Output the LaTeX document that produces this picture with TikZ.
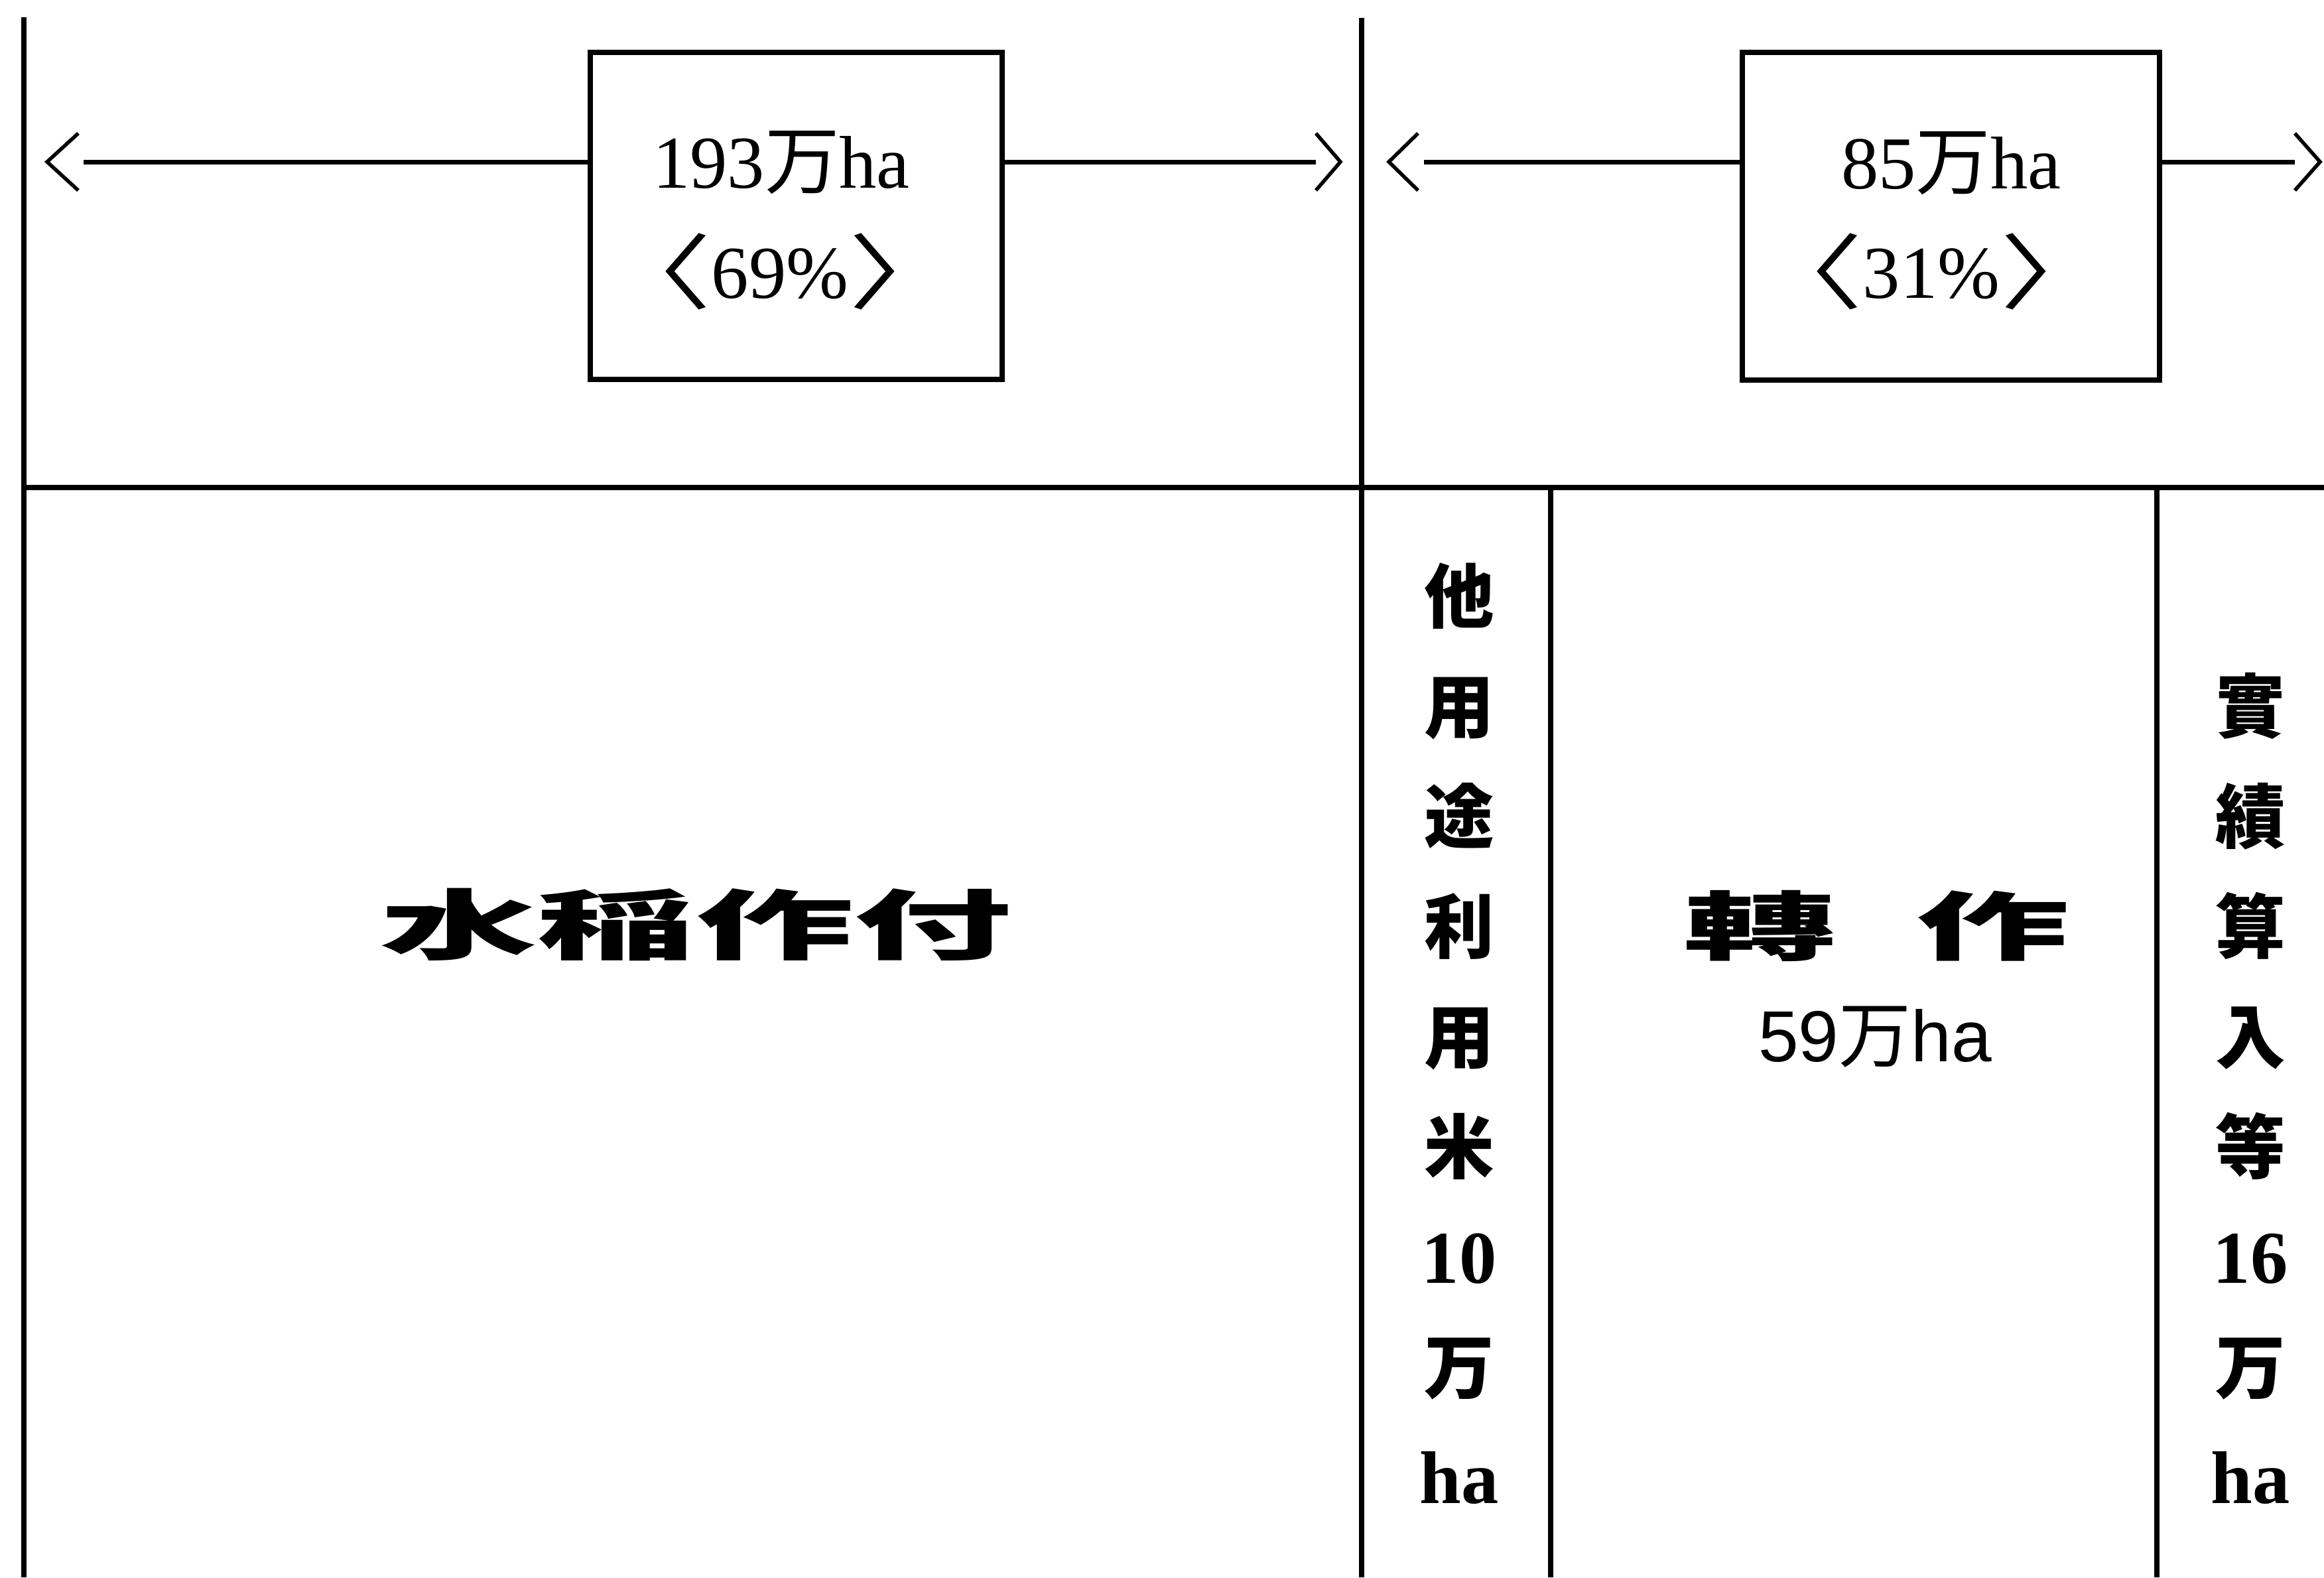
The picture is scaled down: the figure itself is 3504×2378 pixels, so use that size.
\documentclass[tikz,border=0pt]{standalone}
\usepackage{fontspec}
\usepackage{graphicx}
\setmainfont{Liberation Serif}
\newfontfamily\cjk{Noto Sans CJK JP}
\newfontfamily\cjkh{Noto Sans CJK JP}[RawFeature=+halt]
\newfontfamily\sansf{Liberation Sans}
\newcommand\myla{\raisebox{-2pt}{\scalebox{1.5}[1.1]{\cjkh 〈}}}
\newcommand\myra{\raisebox{-2pt}{\scalebox{1.5}[1.1]{\cjkh 〉}}}
\tikzset{
  frameline/.style={line width=0.075cm},
  boxst/.style={draw, line width=0.085cm, inner sep=0pt},
  link/.style={line width=0.07cm},
  chev/.style={line width=0.055cm, line join=miter},
  boxtxt/.style={anchor=base, inner sep=0pt, font=\fontsize{32}{38}\selectfont},
  head/.style={anchor=base, inner sep=0pt, font=\cjk\bfseries\fontsize{32.7}{40}\selectfont},
  sanstxt/.style={anchor=base, inner sep=0pt, font=\sansf\fontsize{31}{37}\selectfont},
  vt/.style={anchor=base, inner sep=0pt, font=\cjk\bfseries\fontsize{30}{36}\selectfont},
}
\newcommand\dg{\rmfamily\bfseries\fontsize{32}{38}\selectfont}
\begin{document}
\begin{tikzpicture}[x=0.01cm,y=-0.01cm]
\useasboundingbox (0,0) rectangle (3504,2378);
% frame
\coordinate (Ltop) at (36,26);   \coordinate (Lbot) at (36,2378);
\coordinate (Mtop) at (2053,27); \coordinate (Mbot) at (2053,2378);
\coordinate (Dl) at (36,735);    \coordinate (Dr) at (3504,735);
\coordinate (C1t) at (2338,735); \coordinate (C1b) at (2338,2378);
\coordinate (C2t) at (3252,735); \coordinate (C2b) at (3252,2378);
\draw[frameline] (Ltop) -- (Lbot);
\draw[frameline] (Mtop) -- (Mbot);
\draw[frameline] (Dl) -- (Dr);
\draw[frameline] (C1t) -- (C1b);
\draw[frameline] (C2t) -- (C2b);
% boxes
\node[boxst, minimum width=6.21cm, minimum height=4.93cm] (b1) at (1200.5,325.5) {};
\node[boxst, minimum width=6.29cm, minimum height=4.94cm] (b2) at (2941.5,326) {};
% arrows
\coordinate (a1l) at (126,244);  \coordinate (a1r) at (1984,244);
\coordinate (a2l) at (2147,244); \coordinate (a2r) at (3460,244);
\draw[link] (b1.west |- a1l) -- (a1l);
\draw[link] (b1.east |- a1r) -- (a1r);
\draw[link] (b2.west |- a2l) -- (a2l);
\draw[link] (b2.east |- a2r) -- (a2r);
\draw[chev] (a1l) ++(-8,-43) -- ++(-47,43) -- ++(47,43);
\draw[chev] (a1r) ++(0,-43) -- ++(37,43) -- ++(-37,43);
\draw[chev] (a2l) ++(-9,-43) -- ++(-44,43) -- ++(44,43);
\draw[chev] (a2r) ++(0,-43) -- ++(38,43) -- ++(-38,43);
% box texts
\node[boxtxt] (t1) at (1178,283) {193{\cjk 万}ha};
\node[boxtxt] (p1) at (1176,449) {\myla69\%\myra};
\node[boxtxt] (t2) at (2942,284) {85{\cjk 万}ha};
\node[boxtxt] (p2) at (2912,449) {\myla31\%\myra};
% headings
\node[head] (rice) at (1049,1437) {\scalebox{2.07}[1]{水稲作付}};
\node[head, font=\cjk\bfseries\fontsize{32}{40}\selectfont] (tensaku) at (2829,1438) {\scalebox{2.05}[1]{轉\hspace{0.52em}作}};
\node[sanstxt] (t3) at (2827,1600) {59{\cjk 万}ha};
% vertical columns
\foreach \t [count=\i from 0] in {他,用,途,利,用,米,{\dg 10},万,{\dg ha}}
  \node[vt] (L\i) at (2200,{938+166*\i}) {\t};
\foreach \t [count=\i from 1] in {實,績,算,入,等,{\dg 16},万,{\dg ha}}
  \node[vt] (R\i) at (3393,{938+166*\i}) {\t};
\end{tikzpicture}
\end{document}
